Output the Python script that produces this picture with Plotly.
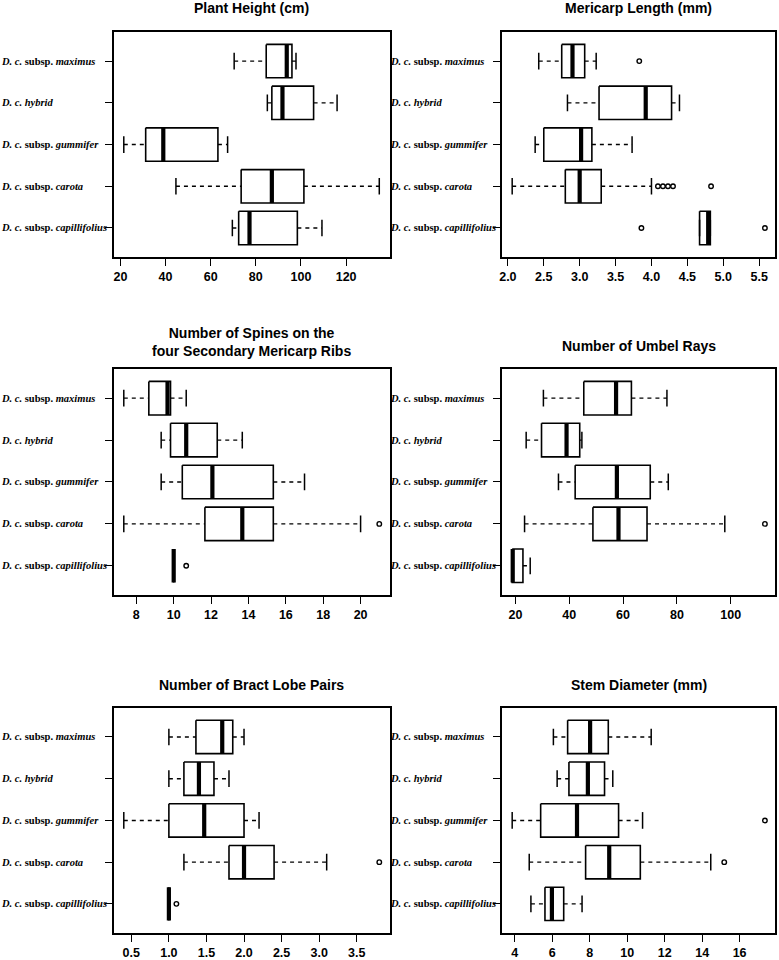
import plotly.graph_objects as go

# ---------------- data ----------------
categories = ["D. c. subsp. maximus", "D. c. hybrid", "D. c. subsp. gummifer",
              "D. c. subsp. carota", "D. c. subsp. capillifolius"]
category_labels = [
    "<b><i>D. c.</i> subsp. <i>maximus</i></b>",
    "<b><i>D. c. hybrid</i></b>",
    "<b><i>D. c.</i> subsp. <i>gummifer</i></b>",
    "<b><i>D. c.</i> subsp. <i>carota</i></b>",
    "<b><i>D. c.</i> subsp. <i>capillifolius</i></b>",
]

# Plant Height (cm)
height_low = [70.4, 85.1, 21.5, 44.6, 69.6]
height_q1 = [84.6, 87.1, 31.2, 73.5, 72.4]
height_med = [93.7, 91.8, 39.0, 87.1, 77.2]
height_q3 = [96.0, 105.6, 63.2, 101.3, 98.4]
height_high = [97.8, 116.0, 67.5, 134.7, 109.3]
height_out = [[], [], [], [], []]
height_ticks = [20, 40, 60, 80, 100, 120]
height_ticktext = ["20", "40", "60", "80", "100", "120"]

# Mericarp Length (mm)
mericarp_low = [2.43, 2.83, 2.38, 2.06, 4.67]
mericarp_q1 = [2.75, 3.27, 2.50, 2.80, 4.67]
mericarp_med = [2.90, 3.92, 3.02, 3.00, 4.79]
mericarp_q3 = [3.07, 4.28, 3.17, 3.30, 4.82]
mericarp_high = [3.23, 4.39, 3.73, 4.00, 4.82]
mericarp_out = [[3.83], [], [], [4.09, 4.16, 4.23, 4.30, 4.83], [3.86, 5.58]]
mericarp_ticks = [2.0, 2.5, 3.0, 3.5, 4.0, 4.5, 5.0, 5.5]
mericarp_ticktext = ["2.0", "2.5", "3.0", "3.5", "4.0", "4.5", "5.0", "5.5"]

# Number of Spines on the four Secondary Mericarp Ribs
spines_low = [7.33, 9.33, 9.33, 7.33, 10.0]
spines_q1 = [8.67, 9.83, 10.46, 11.67, 10.0]
spines_med = [9.67, 10.67, 12.07, 13.67, 10.0]
spines_q3 = [9.83, 12.33, 15.33, 15.33, 10.0]
spines_high = [10.67, 13.67, 17.0, 20.0, 10.0]
spines_out = [[], [], [], [21.0], [10.67]]
spines_ticks = [8, 10, 12, 14, 16, 18, 20]
spines_ticktext = ["8", "10", "12", "14", "16", "18", "20"]

# Number of Umbel Rays
rays_low = [30.4, 24.0, 36.0, 23.4, 18.8]
rays_q1 = [45.4, 29.7, 42.2, 48.8, 18.8]
rays_med = [57.4, 39.0, 57.7, 58.3, 19.0]
rays_q3 = [63.1, 43.9, 70.1, 68.9, 22.8]
rays_high = [76.3, 44.7, 76.8, 97.8, 25.5]
rays_out = [[], [], [], [112.7], []]
rays_ticks = [20, 40, 60, 80, 100]
rays_ticktext = ["20", "40", "60", "80", "100"]

# Number of Bract Lobe Pairs
bract_low = [1.0, 1.0, 0.4, 1.2, 1.0]
bract_q1 = [1.36, 1.2, 1.0, 1.8, 1.0]
bract_med = [1.71, 1.4, 1.47, 2.0, 1.0]
bract_q3 = [1.85, 1.6, 2.0, 2.4, 1.0]
bract_high = [2.0, 1.8, 2.2, 3.1, 1.0]
bract_out = [[], [], [], [3.8], [1.1]]
bract_ticks = [0.5, 1.0, 1.5, 2.0, 2.5, 3.0, 3.5]
bract_ticktext = ["0.5", "1.0", "1.5", "2.0", "2.5", "3.0", "3.5"]

# Stem Diameter (mm)
stem_low = [6.06, 6.26, 3.86, 4.77, 4.86]
stem_q1 = [6.82, 6.89, 5.38, 7.78, 5.61]
stem_med = [8.02, 7.90, 7.32, 9.04, 5.98]
stem_q3 = [8.99, 8.79, 9.54, 10.70, 6.61]
stem_high = [11.28, 9.23, 10.82, 14.46, 7.59]
stem_out = [[], [], [17.35], [15.18], []]
stem_ticks = [4, 6, 8, 10, 12, 14, 16]
stem_ticktext = ["4", "6", "8", "10", "12", "14", "16"]

titles = [
    "Plant Height (cm)",
    "Mericarp Length (mm)",
    "Number of Spines on the<br>four Secondary Mericarp Ribs",
    "Number of Umbel Rays",
    "Number of Bract Lobe Pairs",
    "Stem Diameter (mm)",
]

panels = [
    (height_low, height_q1, height_med, height_q3, height_high, height_out, height_ticks, height_ticktext),
    (mericarp_low, mericarp_q1, mericarp_med, mericarp_q3, mericarp_high, mericarp_out, mericarp_ticks, mericarp_ticktext),
    (spines_low, spines_q1, spines_med, spines_q3, spines_high, spines_out, spines_ticks, spines_ticktext),
    (rays_low, rays_q1, rays_med, rays_q3, rays_high, rays_out, rays_ticks, rays_ticktext),
    (bract_low, bract_q1, bract_med, bract_q3, bract_high, bract_out, bract_ticks, bract_ticktext),
    (stem_low, stem_q1, stem_med, stem_q3, stem_high, stem_out, stem_ticks, stem_ticktext),
]

# ---------------- layout geometry (pixels) ----------------
W, H = 779, 960
col_px = [(111, 388), (501, 775)]
row_px = [(32, 258), (370, 597), (710, 936)]
label_left_px = [-4, 386]
title_center_px = [(8, 8), (343, 347), (687, 687)]

BOX_HALF = 0.4
STAPLE_HALF = 0.2

SERIF = "Liberation Serif, Times New Roman, serif"
SANS = "Liberation Sans, Arial, sans-serif"

fig = go.Figure()
layout = dict(
    width=W, height=H,
    margin=dict(l=0, r=0, t=0, b=0),
    paper_bgcolor="white", plot_bgcolor="white",
    showlegend=False,
    annotations=[],
)

ncat = len(categories)
for p, (lo_l, q1_l, md_l, q3_l, hi_l, out_l, ticks, ticktext) in enumerate(panels):
    r, c = divmod(p, 2)
    sfx = "" if p == 0 else str(p + 1)
    xa, ya = "x" + sfx, "y" + sfx

    wx, wy, bx, by, mx, my, sx, sy, ox, oy = ([] for _ in range(10))
    for i in range(ncat):
        lo, q1, md, q3, hi = lo_l[i], q1_l[i], md_l[i], q3_l[i], hi_l[i]
        y0, y1 = i - BOX_HALF, i + BOX_HALF
        wx += [lo, q1, None, q3, hi, None]
        wy += [i, i, None, i, i, None]
        bx += [q1, q3, q3, q1, q1, None]
        by += [y0, y0, y1, y1, y0, None]
        mx += [md, md, None]
        my += [y0, y1, None]
        sx += [lo, lo, None, hi, hi, None]
        sy += [i - STAPLE_HALF, i + STAPLE_HALF, None, i - STAPLE_HALF, i + STAPLE_HALF, None]
        for v in out_l[i]:
            ox.append(v)
            oy.append(i)

    fig.add_trace(go.Scatter(x=wx, y=wy, xaxis=xa, yaxis=ya, mode="lines",
                             line=dict(color="black", width=1.4, dash="4px,4px"), hoverinfo="skip"))
    fig.add_trace(go.Scatter(x=sx, y=sy, xaxis=xa, yaxis=ya, mode="lines",
                             line=dict(color="black", width=1.5), hoverinfo="skip"))
    fig.add_trace(go.Scatter(x=bx, y=by, xaxis=xa, yaxis=ya, mode="lines",
                             line=dict(color="black", width=1.6), hoverinfo="skip"))
    fig.add_trace(go.Scatter(x=mx, y=my, xaxis=xa, yaxis=ya, mode="lines",
                             line=dict(color="black", width=4.2), hoverinfo="skip"))
    if ox:
        fig.add_trace(go.Scatter(x=ox, y=oy, xaxis=xa, yaxis=ya, mode="markers",
                                 marker=dict(symbol="circle-open", size=4.5, color="black",
                                             line=dict(width=1.4, color="black")),
                                 hoverinfo="skip"))

    # R-style axis range: data extent extended by 4%
    allv = lo_l + hi_l + [v for o in out_l for v in o]
    vmin, vmax = min(allv), max(allv)
    pad = 0.04 * (vmax - vmin)

    x0p, x1p = col_px[c]
    ytp, ybp = row_px[r]
    layout["xaxis" + sfx] = dict(
        domain=[x0p / W, x1p / W], anchor=ya, range=[vmin - pad, vmax + pad],
        tickmode="array", tickvals=ticks, ticktext=ticktext,
        ticks="outside", ticklen=7, tickwidth=1.4, tickcolor="black",
        showline=True, mirror=True, linecolor="black", linewidth=1.6,
        showgrid=False, zeroline=False,
        tickfont=dict(family=SANS, size=12.5, color="black", weight="bold"),
    )
    layout["yaxis" + sfx] = dict(
        domain=[1 - ybp / H, 1 - ytp / H], anchor=xa, range=[ncat - 1 + 0.7, -0.7],
        tickmode="array", tickvals=list(range(ncat)), showticklabels=False,
        ticks="outside", ticklen=7, tickwidth=1.4, tickcolor="black",
        showline=True, mirror=True, linecolor="black", linewidth=1.6,
        showgrid=False, zeroline=False,
    )

    # category labels, left aligned at the figure edge
    for i in range(ncat):
        layout["annotations"].append(dict(
            text=category_labels[i], xref="paper", x=label_left_px[c] / W, xanchor="left",
            yref=ya, y=i, yanchor="middle", showarrow=False,
            font=dict(family=SERIF, size=10.5, color="black"),
        ))

    # panel title
    layout["annotations"].append(dict(
        text="<b>" + titles[p] + "</b>", xref=xa + " domain", x=0.5, xanchor="center",
        yref="paper", y=1 - title_center_px[r][c] / H, yanchor="middle", showarrow=False,
        font=dict(family=SANS, size=14, color="black"),
    ))

fig.update_layout(**layout)
fig.write_html(
    "out.html",
    config={"displayModeBar": False},
    post_script="document.body.style.margin='0';document.body.style.overflow='hidden';",
)
